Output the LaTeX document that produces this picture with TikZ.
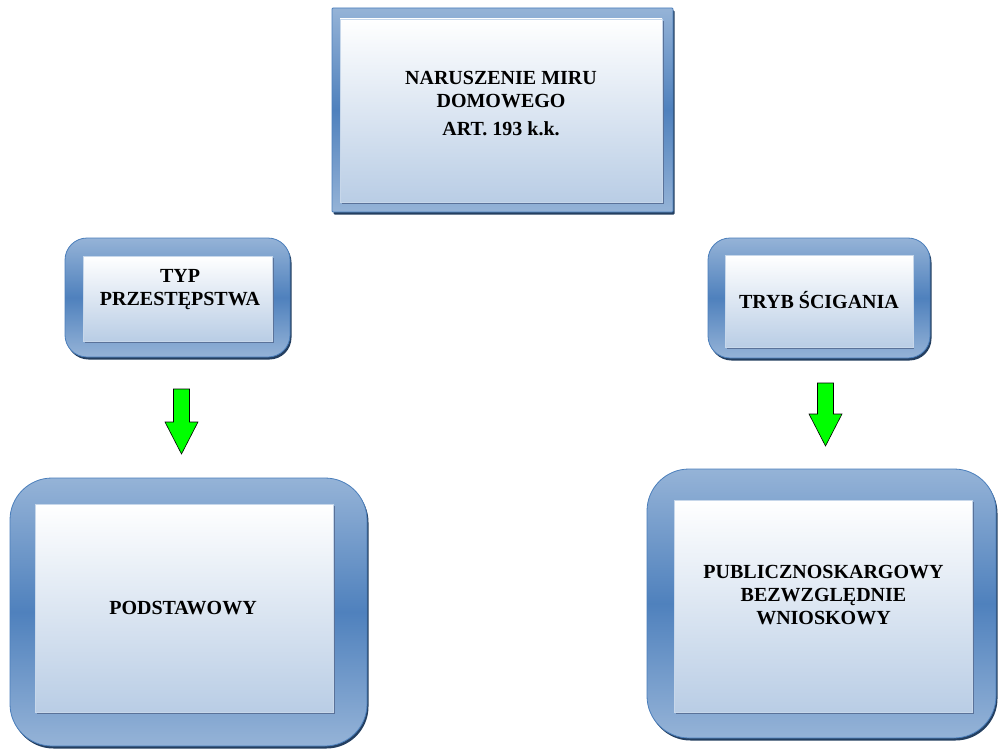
\documentclass[tikz,border=0pt]{standalone}
\usepackage{fontspec}
\setmainfont{Liberation Serif}
\definecolor{frameA}{HTML}{95B3D7}
\definecolor{frameB}{HTML}{4F81BD}
\definecolor{frameline}{HTML}{4A7EBB}
\definecolor{frameshadow}{HTML}{243F60}
\definecolor{panelbot}{HTML}{B9CDE5}
\definecolor{panelshadow}{HTML}{5A7299}
\definecolor{arrowgreen}{HTML}{00FF00}
\tikzset{
  outerbox/.style={top color=frameA, bottom color=frameA, middle color=frameB},
  panel/.style={rectangle, top color=white, bottom color=panelbot,
    draw=panelbot!80!white, line width=0.4pt, inner sep=0pt},
  label/.style={inner sep=0pt, align=center,
    font=\bfseries\fontsize{20}{23}\selectfont},
  greenarrow/.style={draw=black, fill=arrowgreen, line width=0.6pt, line join=miter}
}
\newcommand{\myframe}[5]{%
  \fill[frameshadow, rounded corners=#5] (#1+1.5,#2+2.5) rectangle (#3+1.5,#4+2.5);
  \path[outerbox, rounded corners=#5] (#1,#2) rectangle (#3,#4);
  \draw[frameline, line width=0.8pt, rounded corners=#5] (#1,#2) rectangle (#3,#4);
}
\newcommand{\greenarr}[4]{% x center, shaft top, head y, tip y
  \path[greenarrow] (#1-8,#2) -- (#1+8,#2) -- (#1+8,#3) -- (#1+16.5,#3)
    -- (#1,#4) -- (#1-16.5,#3) -- (#1-8,#3) -- cycle;
}
\begin{document}
\begin{tikzpicture}[x=1pt,y=-1pt]
\useasboundingbox (0,0) rectangle (998,749);
% top box
\myframe{332}{8}{673}{212}{1pt}
\fill[panelshadow] (342,21) rectangle (664,204);
\node[panel, minimum width=322pt, minimum height=183pt] (top) at (501,110.5) {};
\node[label] (topt) at (501,103.5)
  {NARUSZENIE MIRU\\DOMOWEGO\\[5pt]ART. 193 k.k.};
% left small
\myframe{65}{238}{290}{357}{22pt}
\fill[panelshadow] (85,258) rectangle (274,343);
\node[panel, minimum width=189pt, minimum height=85pt] (typ) at (177.5,298.5) {};
\node[label] (typt) at (180,290) {TYP\\PRZESTĘPSTWA};
% right small
\myframe{708}{238}{930}{358}{22pt}
\fill[panelshadow] (727,258) rectangle (914,349);
\node[panel, minimum width=188pt, minimum height=92pt] (tryb) at (819,301.5) {};
\node[label] (trybt) at (819,300) {TRYB ŚCIGANIA};
% left big
\myframe{10}{478}{367}{746}{42pt}
\fill[panelshadow] (37,506) rectangle (335,714);
\node[panel, minimum width=298pt, minimum height=208pt] (pod) at (184,608) {};
\node[label] (podt) at (183,608) {PODSTAWOWY};
% right big
\myframe{647}{469}{996}{738}{42pt}
\fill[panelshadow] (676,502) rectangle (974,714);
\node[panel, minimum width=298pt, minimum height=212pt] (pub) at (823,606) {};
\node[label] (pubt) at (823.5,595.5)
  {PUBLICZNOSKARGOWY\\BEZWZGLĘDNIE\\WNIOSKOWY};
% arrows
\greenarr{181.5}{389}{422}{454}
\greenarr{825.5}{383}{414}{446}
\end{tikzpicture}
\end{document}
